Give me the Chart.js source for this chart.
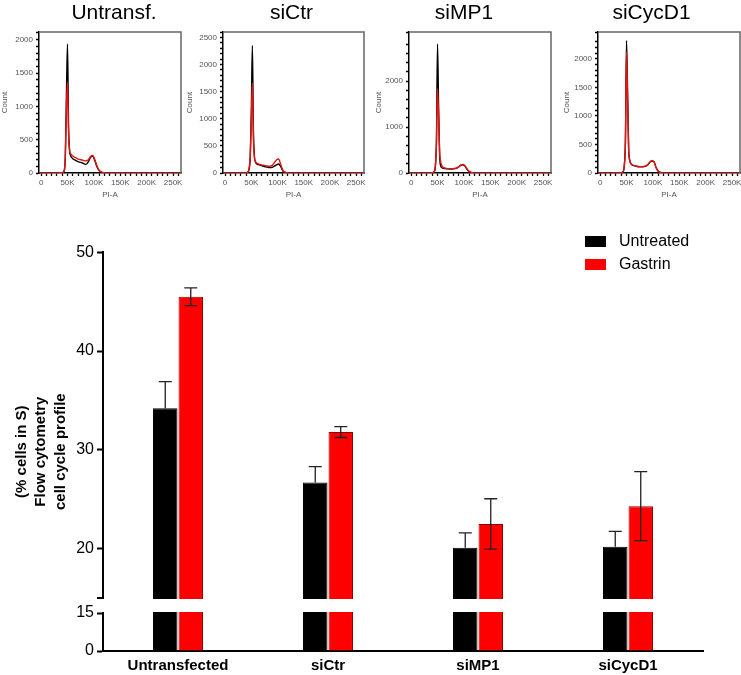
<!DOCTYPE html>
<html>
<head>
<meta charset="utf-8">
<script src="https://cdn.jsdelivr.net/npm/chart.js@4.4.1/dist/chart.umd.min.js"></script>
<style>
  html, body { margin: 0; padding: 0; background: #fff; overflow: hidden; }
  #page { position: relative; width: 741px; height: 675px; }
  canvas { position: absolute; }
</style>
</head>
<body>
<div id="page">
  <canvas id="h0"></canvas>
  <canvas id="h1"></canvas>
  <canvas id="h2"></canvas>
  <canvas id="h3"></canvas>
  <canvas id="bars"></canvas>
</div>
<script>
// ---- bar chart data ----
const groups = ['Untransfected', 'siCtr', 'siMP1', 'siCycD1'];
const untreated = [34.2, 26.7, 20.1, 20.2];
const untreatedErr = [2.7, 1.6, 1.5, 1.55];
const gastrin = [45.5, 31.8, 22.5, 24.3];
const gastrinErr = [0.9, 0.55, 2.55, 3.5];
const yTicks = [0, 15, 20, 30, 40, 50];
const breakAt = 15;

// ---- histogram data (PI-A in K, counts) ----
const panelTitles = ['Untransf.', 'siCtr', 'siMP1', 'siCycD1'];
const piA = [-4, 30, 40, 44, 46, 48, 50, 52, 54, 56, 58, 60, 65, 70, 75, 80, 85, 90, 94, 98, 102, 106, 110, 115, 120, 130, 150, 200, 265];
const countMax = [2120, 2600, 3070, 2470];
const countStep = [100, 100, 200, 100];
const countLabelEvery = [500, 500, 1000, 500];

const blackUntransf = [0, 0, 5, 40, 300, 1200, 1940, 700, 330, 260, 230, 215, 190, 170, 160, 145, 130, 175, 240, 255, 180, 90, 35, 10, 3, 0, 0, 0, 0];
const redUntransf   = [0, 0, 5, 40, 280, 1000, 1365, 600, 340, 290, 270, 255, 230, 210, 200, 190, 180, 205, 250, 265, 195, 100, 40, 12, 4, 0, 0, 0, 0];
const blackSiCtr    = [0, 0, 3, 20, 80, 300, 1100, 2350, 800, 300, 200, 170, 150, 135, 120, 110, 100, 105, 125, 150, 166, 120, 40, 10, 2, 0, 0, 0, 0];
const redSiCtr      = [0, 0, 3, 25, 100, 320, 950, 1660, 650, 280, 210, 185, 165, 150, 140, 130, 125, 140, 190, 240, 258, 160, 55, 12, 3, 0, 0, 0, 0];
const blackSiMP1    = [0, 0, 5, 30, 150, 700, 2810, 1500, 400, 160, 120, 105, 95, 90, 88, 90, 100, 130, 165, 180, 150, 80, 30, 8, 2, 0, 0, 0, 0];
const redSiMP1      = [0, 0, 5, 35, 170, 650, 1837, 1250, 450, 250, 170, 130, 105, 95, 90, 95, 105, 135, 170, 185, 160, 90, 35, 10, 3, 0, 0, 0, 0];
const blackSiCycD1  = [0, 0, 5, 30, 150, 600, 2320, 1450, 450, 220, 170, 145, 125, 115, 110, 110, 115, 140, 185, 210, 200, 95, 30, 8, 2, 0, 0, 0, 0];
const redSiCycD1    = [0, 0, 5, 30, 140, 560, 2128, 1350, 430, 230, 175, 150, 130, 118, 112, 112, 118, 142, 188, 212, 198, 97, 32, 8, 2, 0, 0, 0, 0];

const blackCounts = [blackUntransf, blackSiCtr, blackSiMP1, blackSiCycD1];
const redCounts = [redUntransf, redSiCtr, redSiMP1, redSiCycD1];

const FONT = "'Liberation Sans', Arial, Helvetica, sans-serif";
Chart.defaults.font.family = FONT;

// panel placement on the page (padR is taken by an empty right-hand axis
// so the full-width title is centred where the reference has it)
const panelBoxes = [
  {left: 0,   width: 228, yw: 39, padR: 47},
  {left: 185, width: 213, yw: 38, padR: 34},
  {left: 374, width: 180, yw: 35, padR: 3},
  {left: 562, width: 179, yw: 36, padR: 1}
];

const frame = {
  id: 'frame',
  afterDraw(chart) {
    const {ctx, chartArea: a} = chart;
    ctx.save();
    ctx.strokeStyle = '#666';
    ctx.lineWidth = 1.5;
    ctx.beginPath();
    ctx.moveTo(a.left, a.top);
    ctx.lineTo(a.right, a.top);
    ctx.lineTo(a.right, a.bottom);
    ctx.stroke();
    ctx.restore();
  }
};

function histogram(i) {
  const box = panelBoxes[i];
  const cv = document.getElementById('h' + i);
  cv.width = box.width; cv.height = 200;
  cv.style.left = box.left + 'px'; cv.style.top = '0px';
  const pts = arr => arr.map((c, k) => ({x: piA[k], y: c}));
  new Chart(cv, {
    type: 'line',
    data: {
      datasets: [
        {data: pts(redCounts[i]), borderColor: '#e8130f', borderWidth: 1.4},
        {data: pts(blackCounts[i]), borderColor: '#000', borderWidth: 1.4}
      ]
    },
    options: {
      responsive: false,
      animation: false,
      elements: {point: {radius: 0}, line: {cubicInterpolationMode: 'monotone'}},
      layout: {padding: 0},
      plugins: {
        legend: {display: false},
        tooltip: {enabled: false},
        title: {display: true, text: panelTitles[i], color: '#000',
                font: {size: 21, weight: 'normal'}, padding: {top: 1, bottom: 5.8}}
      },
      scales: {
        x: {
          type: 'linear', min: -4, max: 265,
          afterFit: s => { s.height = 27; },
          grid: {drawOnChartArea: false, tickLength: 3, tickColor: '#000', tickWidth: 1.3},
          border: {color: '#000', width: 1.5},
          ticks: {stepSize: 10, includeBounds: false, autoSkip: false, maxRotation: 0, padding: 2,
                  color: '#555', font: {size: 8},
                  callback: v => v % 50 === 0 ? (v === 0 ? '0' : v + 'K') : ''},
          title: {display: true, text: 'PI-A', color: '#555', font: {size: 8}, padding: {top: 2, bottom: 0}}
        },
        y: {
          min: 0, max: countMax[i],
          afterFit: s => { s.width = box.yw; },
          grid: {drawOnChartArea: false, tickLength: 3, tickColor: '#000', tickWidth: 1.3},
          border: {color: '#000', width: 1.5},
          ticks: {stepSize: countStep[i], autoSkip: false, padding: 3, color: '#555', font: {size: 8},
                  callback: v => v % countLabelEvery[i] === 0 ? v : ''},
          title: {display: true, text: 'Count', color: '#555', font: {size: 8}, padding: {top: 0, bottom: 0}}
        },
        spacer: {
          type: 'linear', position: 'right', display: true,
          afterFit: s => { s.width = box.padR; },
          grid: {display: false, drawTicks: false},
          border: {display: false},
          ticks: {display: false}
        }
      }
    },
    plugins: [frame]
  });
}
for (let i = 0; i < 4; i++) histogram(i);

// ---- broken y scale for the bar chart ----
const LOW_FRAC = 38 / 398.7, GAP_FRAC = 15 / 398.7;
class BrokenScale extends Chart.LinearScale {
  getPixelForValue(v) {
    const H = this.bottom - this.top;
    const lowH = H * LOW_FRAC, gapH = H * GAP_FRAC, upH = H - lowH - gapH;
    if (v <= breakAt) return this.bottom - v / breakAt * lowH;
    return this.bottom - lowH - gapH - (v - breakAt) / (this.max - breakAt) * upH;
  }
  getValueForPixel(p) {
    const H = this.bottom - this.top;
    const lowH = H * LOW_FRAC, gapH = H * GAP_FRAC, upH = H - lowH - gapH;
    const d = this.bottom - p;
    if (d <= lowH) return d / lowH * breakAt;
    return breakAt + (d - lowH - gapH) / upH * (this.max - breakAt);
  }
  gapTop() {
    const H = this.bottom - this.top;
    return this.bottom - H * (LOW_FRAC + GAP_FRAC);
  }
}
BrokenScale.id = 'broken';
BrokenScale.defaults = Chart.LinearScale.defaults;
Chart.register(BrokenScale);

const brokenAxis = {
  id: 'brokenAxis',
  afterDatasetsDraw(chart) {
    const {ctx, chartArea: a} = chart;
    const y = chart.scales.y;
    const gTop = y.gapTop();
    const gBot = y.getPixelForValue(breakAt);
    ctx.save();
    ctx.fillStyle = '#fff';
    ctx.fillRect(a.left - 2, gTop + 1, a.right - a.left + 2, gBot - gTop - 2);
    ctx.strokeStyle = '#000';
    ctx.lineWidth = 2;
    ctx.beginPath();
    ctx.moveTo(a.left - 6, gTop);
    ctx.lineTo(a.left, gTop);
    ctx.stroke();
    ctx.restore();
  }
};

const errorBars = {
  id: 'errorBars',
  afterDatasetsDraw(chart) {
    const ctx = chart.ctx, y = chart.scales.y;
    ctx.save();
    ctx.strokeStyle = '#222';
    ctx.lineWidth = 1.3;
    chart.data.datasets.forEach((ds, i) => {
      chart.getDatasetMeta(i).data.forEach((bar, j) => {
        const v = ds.data[j], e = ds.err[j];
        const top = y.getPixelForValue(v + e);
        const bot = y.getPixelForValue(ds.errBoth ? v - e : v);
        ctx.beginPath();
        ctx.moveTo(bar.x, bot); ctx.lineTo(bar.x, top);
        ctx.moveTo(bar.x - 6.5, top); ctx.lineTo(bar.x + 6.5, top);
        if (ds.errBoth) { ctx.moveTo(bar.x - 6.5, bot); ctx.lineTo(bar.x + 6.5, bot); }
        ctx.stroke();
      });
    });
    ctx.restore();
  }
};

const legendBox = {
  id: 'legendBox',
  afterDraw(chart) {
    const ctx = chart.ctx;
    ctx.save();
    ctx.font = '16px ' + FONT;
    ctx.textBaseline = 'middle';
    chart.data.datasets.forEach((ds, i) => {
      const y0 = 21 + i * 23;
      ctx.fillStyle = ds.backgroundColor;
      ctx.fillRect(585, y0, 21, 11);
      ctx.fillStyle = '#000';
      ctx.fillText(ds.label, 619, y0 + 6);
    });
    ctx.restore();
  }
};

const bcv = document.getElementById('bars');
bcv.width = 741; bcv.height = 460;
bcv.style.left = '0px'; bcv.style.top = '215px';

new Chart(bcv, {
  type: 'bar',
  data: {
    labels: groups,
    datasets: [
      {label: 'Untreated', data: untreated, err: untreatedErr, errBoth: false,
       backgroundColor: '#000000', borderColor: '#000', borderWidth: 1},
      {label: 'Gastrin', data: gastrin, err: gastrinErr, errBoth: true,
       backgroundColor: '#ff0000', borderColor: '#8a0000', borderWidth: 1}
    ]
  },
  options: {
    responsive: false,
    animation: false,
    categoryPercentage: 0.34,
    barPercentage: 0.96,
    layout: {padding: {left: 0, right: 38, top: 37.3, bottom: 0}},
    plugins: {legend: {display: false}, tooltip: {enabled: false}},
    scales: {
      x: {
        afterFit: s => { s.height = 24; },
        grid: {display: false, drawTicks: false},
        border: {color: '#000', width: 2},
        ticks: {color: '#000', padding: 6, font: {size: 15, weight: 'bold'}}
      },
      y: {
        type: 'broken', min: 0, max: 50,
        afterBuildTicks: s => { s.ticks = yTicks.map(v => ({value: v})); },
        afterFit: s => { s.width = 103; },
        grid: {drawOnChartArea: false, tickLength: 6, tickWidth: 2, tickColor: '#000'},
        border: {color: '#000', width: 2},
        ticks: {color: '#000', padding: 3, font: {size: 16}},
        title: {display: true, text: ['(% cells in S)', 'Flow cytometry', 'cell cycle profile'],
                color: '#000', font: {size: 15, weight: 'bold', lineHeight: 1.3},
                padding: {top: 12, bottom: 0}}
      }
    }
  },
  plugins: [brokenAxis, errorBars, legendBox]
});
</script>
</body>
</html>
